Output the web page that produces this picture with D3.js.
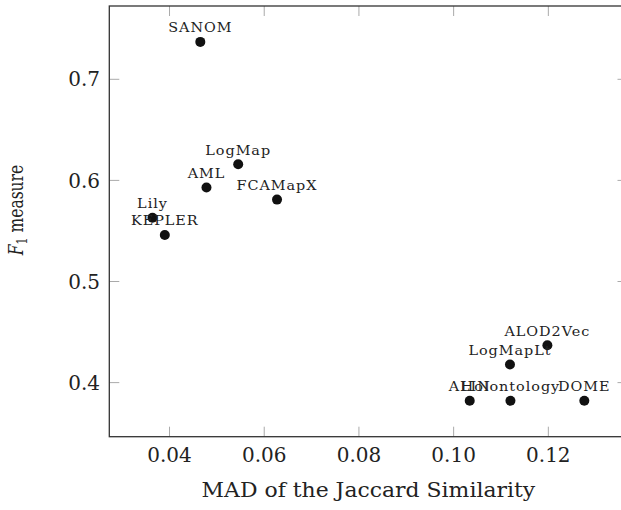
<!DOCTYPE html>
<html>
<head>
<meta charset="utf-8">
<script src="https://cdn.jsdelivr.net/npm/d3@7"></script>
<style>
  html, body { margin: 0; padding: 0; background: #fff; }
  svg { display: block; }
  text { font-family: "DejaVu Serif", serif; fill: #222; }
</style>
</head>
<body>
<svg id="chart" width="621" height="510"></svg>
<script>
// ---- data ----
const systems = ["SANOM", "LogMap", "AML", "FCAMapX", "Lily", "KEPLER",
                 "ALOD2Vec", "LogMapLt", "ALIN", "Holontology", "DOME"];
const madJaccard = [0.0465, 0.0545, 0.0478, 0.0627, 0.0364, 0.0390,
                    0.1198, 0.1119, 0.1034, 0.1120, 0.1276];
const f1Measure = [0.737, 0.616, 0.593, 0.581, 0.563, 0.546,
                   0.437, 0.418, 0.382, 0.382, 0.382];
const xTicks = [0.04, 0.06, 0.08, 0.10, 0.12];
const yTicks = [0.4, 0.5, 0.6, 0.7];
const xLabel = "MAD of the Jaccard Similarity";

// ---- layout ----
const svg = d3.select("#chart");
const pLeft = 109.3, pRight = 627.5, pTop = 6, pBottom = 436.7;

function enlarge(ext, f) { const r = ext[1] - ext[0]; return [ext[0] - f * r, ext[1] + f * r]; }
const x = d3.scaleLinear().domain(enlarge(d3.extent(madJaccard), 0.1)).range([pLeft, pRight]);
const y = d3.scaleLinear().domain(enlarge(d3.extent(f1Measure), 0.1)).range([pBottom, pTop]);

const tickLen = 10;
const tickColor = "#aaa";

// ticks (inside, mirrored)
const g = svg.append("g");
xTicks.forEach(t => {
  g.append("line").attr("x1", x(t)).attr("x2", x(t)).attr("y1", pBottom).attr("y2", pBottom - tickLen)
    .attr("stroke", tickColor).attr("stroke-width", 1);
  g.append("line").attr("x1", x(t)).attr("x2", x(t)).attr("y1", pTop).attr("y2", pTop + tickLen)
    .attr("stroke", tickColor).attr("stroke-width", 1);
  g.append("text").attr("x", x(t)).attr("y", 462).attr("text-anchor", "middle")
    .attr("font-size", 20).text(d3.format(".2f")(t));
});
yTicks.forEach(t => {
  g.append("line").attr("x1", pLeft).attr("x2", pLeft + tickLen).attr("y1", y(t)).attr("y2", y(t))
    .attr("stroke", tickColor).attr("stroke-width", 1);
  g.append("line").attr("x1", pRight).attr("x2", pRight - tickLen).attr("y1", y(t)).attr("y2", y(t))
    .attr("stroke", tickColor).attr("stroke-width", 1);
  g.append("text").attr("x", 100).attr("y", y(t)).attr("dy", "0.36em").attr("text-anchor", "end")
    .attr("font-size", 20).text(d3.format(".1f")(t));
});

// frame
svg.append("rect").attr("x", pLeft).attr("y", pTop).attr("width", pRight - pLeft).attr("height", pBottom - pTop)
  .attr("fill", "none").attr("stroke", "#333").attr("stroke-width", 1.3);

// points
const pts = systems.map((s, i) => ({ name: s, x: madJaccard[i], y: f1Measure[i] }));
svg.append("g").selectAll("circle").data(pts).join("circle")
  .attr("cx", d => x(d.x)).attr("cy", d => y(d.y)).attr("r", 5).attr("fill", "#111");

svg.append("g").selectAll("text").data(pts).join("text")
  .attr("transform", d => `translate(${x(d.x)},${y(d.y) - 9.5}) scale(1.2,1)`)
  .attr("text-anchor", "middle").attr("font-size", 12).attr("letter-spacing", 0.8)
  .text(d => d.name);

// axis labels
svg.append("text").attr("transform", `translate(${(pLeft + pRight) / 2},497) scale(1.07,1)`)
  .attr("text-anchor", "middle").attr("font-size", 20.5).text(xLabel);

const yl = svg.append("text").attr("transform", `translate(23,210) scale(1.3,1) rotate(-90)`)
  .attr("text-anchor", "middle").attr("font-size", 15.5);
yl.append("tspan").attr("font-style", "italic").text("F");
yl.append("tspan").attr("font-size", 11).attr("dy", 3).text("1");
yl.append("tspan").attr("dy", -3).text(" measure");
</script>
</body>
</html>
